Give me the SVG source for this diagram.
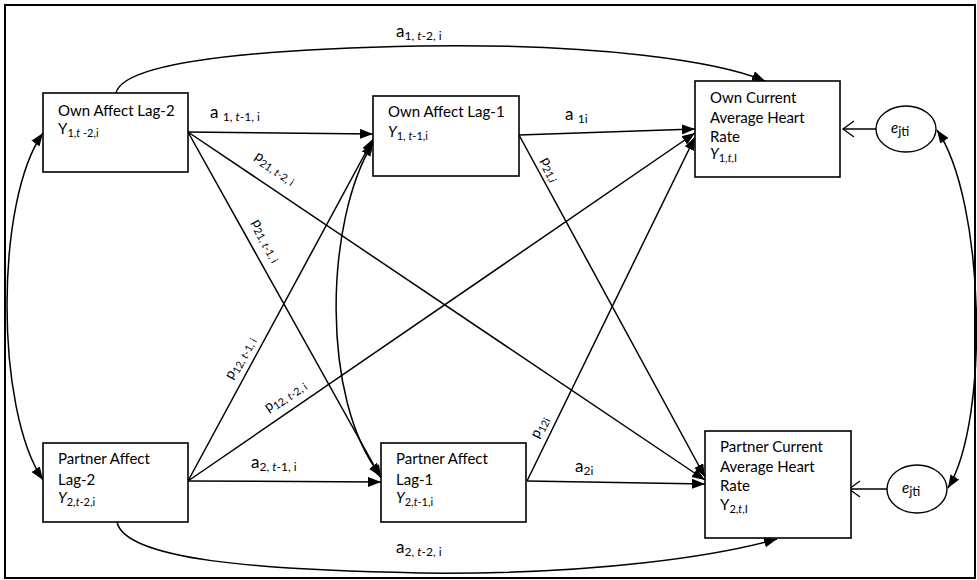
<svg xmlns="http://www.w3.org/2000/svg" width="977" height="580" viewBox="0 0 977 580">
  <defs>
    <marker id="arrow" markerUnits="userSpaceOnUse" markerWidth="14" markerHeight="12" refX="13" refY="5" orient="auto-start-reverse">
      <path d="M0,0 L13,5 L0,10 z" fill="#000"/>
    </marker>
  </defs>
  <style>
    .box { fill: #fff; stroke: #000; stroke-width: 1.6; }
    .ell { fill: #fff; stroke: #000; stroke-width: 1.4; }
    .lbl { font-family: Lato, "Liberation Sans", Arial, sans-serif; font-size: 15px; fill: #000; }
    .alb { font-family: Lato, "Liberation Sans", Arial, sans-serif; font-size: 17px; fill: #000; }
    .sub { font-size: 11px; }
    .asub { font-size: 12px; }
    .plbl { font-family: Lato, "Liberation Sans", Arial, sans-serif; font-size: 14px; fill: #000; }
    .psub { font-size: 10.5px; }
    .conn path, .conn line { fill: none; stroke: #000; stroke-width: 1.5; }
    .conn .chev { fill: none; stroke: #000; stroke-width: 1.3; }
    .frame { fill: none; stroke: #000; stroke-width: 2; }
  </style>

  <rect class="frame" x="5" y="5" width="970" height="573"/>

  <!-- connectors -->
  <g id="connectors" class="conn">
    <!-- lag-1 autoregressive paths -->
    <line x1="188" y1="132" x2="373" y2="134" marker-end="url(#arrow)"/>
    <line x1="519" y1="135" x2="695" y2="129" marker-end="url(#arrow)"/>
    <line x1="188" y1="481" x2="381" y2="482" marker-end="url(#arrow)"/>
    <line x1="527" y1="481" x2="705" y2="484" marker-end="url(#arrow)"/>
    <!-- cross-lagged paths -->
    <line x1="188" y1="132" x2="381" y2="478" marker-end="url(#arrow)"/>
    <line x1="188" y1="132" x2="705" y2="480" marker-end="url(#arrow)"/>
    <line x1="188" y1="481" x2="373" y2="139" marker-end="url(#arrow)"/>
    <line x1="188" y1="481" x2="695" y2="133" marker-end="url(#arrow)"/>
    <line x1="519" y1="135" x2="705" y2="477" marker-end="url(#arrow)"/>
    <line x1="527" y1="481" x2="695" y2="137" marker-end="url(#arrow)"/>
    <!-- lag-2 paths -->
    <path d="M116,93 C122,68 210,50 420,46 C600,43 720,62 765,81" marker-end="url(#arrow)"/>
    <path d="M117,522 C125,560 260,570 420,573 C600,575 720,555 777,539" marker-end="url(#arrow)"/>
    <!-- covariances -->
    <path d="M43,133 C-5,200 -5,410 43,480" marker-start="url(#arrow)" marker-end="url(#arrow)"/>
    <path d="M373,143 C325,220 320,400 381,476" marker-start="url(#arrow)" marker-end="url(#arrow)"/>
    <path d="M937,130 C985,200 990,420 948,488" marker-start="url(#arrow)" marker-end="url(#arrow)"/>
    <!-- residuals with open heads -->
    <line x1="876" y1="129" x2="843" y2="129"/>
    <path class="chev" d="M854,121 L843,129 L854,137"/>
    <line x1="887" y1="489" x2="849" y2="489"/>
    <path class="chev" d="M860,481 L849,489 L860,497"/>
  </g>

  <!-- path labels -->
  <g id="path-labels">
    <text class="alb" x="396" y="37">a<tspan class="asub" dy="3">1, <tspan font-style="italic">t</tspan>-2, i</tspan></text>
    <text class="alb" x="210" y="118">a <tspan class="asub" dy="3">1, <tspan font-style="italic">t</tspan>-1, i</tspan></text>
    <text class="alb" x="565" y="120">a <tspan class="asub" dy="3">1i</tspan></text>
    <text class="alb" x="251" y="468">a<tspan class="asub" dy="3">2, <tspan font-style="italic">t</tspan>-1, i</tspan></text>
    <text class="alb" x="575" y="472">a<tspan class="asub" dy="3">2i</tspan></text>
    <text class="alb" x="396" y="553">a<tspan class="asub" dy="3">2, <tspan font-style="italic">t</tspan>-2, i</tspan></text>

    <text class="plbl" transform="translate(254,158) rotate(34)">p<tspan class="psub" dy="3">21, <tspan font-style="italic">t</tspan>-2, i</tspan></text>
    <text class="plbl" transform="translate(252,222) rotate(61)">p<tspan class="psub" dy="3">21, <tspan font-style="italic">t</tspan>-1, i</tspan></text>
    <text class="plbl" transform="translate(232,380) rotate(-61)">p<tspan class="psub" dy="3">12, <tspan font-style="italic">t</tspan>-1, i</tspan></text>
    <text class="plbl" transform="translate(268,412) rotate(-34)">p<tspan class="psub" dy="3">12, <tspan font-style="italic">t</tspan>-2, i</tspan></text>
    <text class="plbl" transform="translate(541,160) rotate(62)">p<tspan class="psub" dy="3">21,<tspan font-style="italic">i</tspan></tspan></text>
    <text class="plbl" transform="translate(538,439) rotate(-63)">p<tspan class="psub" dy="3">12i</tspan></text>
  </g>

  <!-- nodes -->
  <g id="own-lag2">
    <rect class="box" x="43" y="93" width="145" height="79"/>
    <text class="lbl" x="58" y="116">Own Affect Lag-2</text>
    <text class="lbl" x="58" y="134">Y<tspan class="sub" dy="3">1,<tspan font-style="italic">t</tspan> -2,i</tspan></text>
  </g>

  <g id="own-lag1">
    <rect class="box" x="373" y="96" width="146" height="80"/>
    <text class="lbl" x="388" y="117">Own Affect Lag-1</text>
    <text class="lbl" x="388" y="137"><tspan font-style="italic">Y</tspan><tspan class="sub" dy="3">1, <tspan font-style="italic">t</tspan>-1,i</tspan></text>
  </g>

  <g id="own-hr">
    <rect class="box" x="695" y="81" width="145" height="96"/>
    <text class="lbl" x="710" y="103">Own Current</text>
    <text class="lbl" x="710" y="123">Average Heart</text>
    <text class="lbl" x="710" y="142">Rate</text>
    <text class="lbl" x="710" y="159"><tspan font-style="italic">Y</tspan><tspan class="sub" dy="3">1,<tspan font-style="italic">t</tspan>,I</tspan></text>
  </g>

  <g id="partner-lag2">
    <rect class="box" x="43" y="443" width="145" height="79"/>
    <text class="lbl" x="58" y="464">Partner Affect</text>
    <text class="lbl" x="58" y="485">Lag-2</text>
    <text class="lbl" x="58" y="503"><tspan font-style="italic">Y</tspan><tspan class="sub" dy="3">2,<tspan font-style="italic">t</tspan>-2,i</tspan></text>
  </g>

  <g id="partner-lag1">
    <rect class="box" x="381" y="443" width="145" height="79"/>
    <text class="lbl" x="396" y="464">Partner Affect</text>
    <text class="lbl" x="396" y="485">Lag-1</text>
    <text class="lbl" x="396" y="503"><tspan font-style="italic">Y</tspan><tspan class="sub" dy="3">2,<tspan font-style="italic">t</tspan>-1,i</tspan></text>
  </g>

  <g id="partner-hr">
    <rect class="box" x="705" y="431" width="146" height="107"/>
    <text class="lbl" x="720" y="452">Partner Current</text>
    <text class="lbl" x="720" y="472">Average Heart</text>
    <text class="lbl" x="720" y="491">Rate</text>
    <text class="lbl" x="720" y="510">Y<tspan class="sub" dy="3">2,<tspan font-style="italic">t</tspan>,I</tspan></text>
  </g>

  <g id="err-own">
    <ellipse class="ell" cx="906" cy="129" rx="30" ry="23"/>
    <text class="lbl" x="891" y="133" font-size="18px" font-style="italic">e<tspan font-size="13px" font-style="normal" dy="3">jti</tspan></text>
  </g>

  <g id="err-partner">
    <ellipse class="ell" cx="917" cy="489" rx="30" ry="24"/>
    <text class="lbl" x="902" y="493" font-size="18px" font-style="italic">e<tspan font-size="13px" font-style="normal" dy="3">jti</tspan></text>
  </g>
</svg>
